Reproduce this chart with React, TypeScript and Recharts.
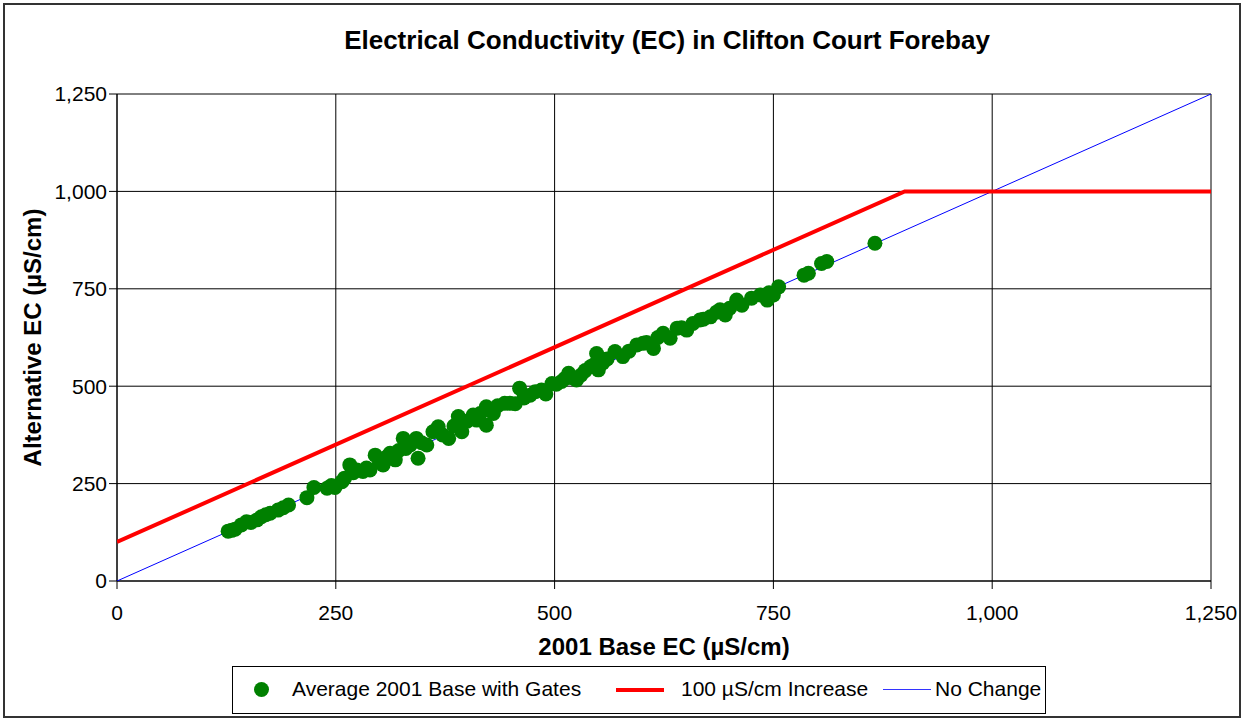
import { CartesianGrid, ComposedChart, Label, Scatter, XAxis, YAxis } from "recharts";

// average 2001 base EC vs alternative EC (µS/cm)
const baseEc = [
  127, 131, 135, 142, 148, 153, 160, 165, 170, 175, 184, 190, 196, 217, 225, 240, 245, 249, 257, 260,
  266, 270, 274, 281, 285, 289, 295, 300, 304, 308, 312, 318, 322, 327, 330, 335, 342, 344, 348, 354,
  361, 367, 372, 379, 385, 390, 394, 400, 407, 411, 415, 422, 422, 424, 430, 435, 443, 449, 455, 460,
  465, 472, 478, 485, 490, 497, 502, 508, 512, 516, 520, 525, 530, 535, 541, 545, 548, 550, 555, 560,
  569, 578, 585, 594, 601, 605, 613, 618, 624, 632, 640, 645, 651, 658, 666, 670, 678, 685, 689, 695,
  700, 708, 714, 725, 735, 743, 745, 750, 756, 785, 790, 805, 811, 866,
];
const altEc = [
  128, 130, 133, 144, 152, 150, 157, 165, 170, 174, 182, 188, 195, 214, 240, 238, 245, 240, 255, 264,
  298, 278, 285, 281, 290, 285, 323, 305, 298, 318, 328, 311, 335, 366, 340, 349, 366, 315, 355, 349,
  383, 396, 375, 366, 398, 422, 383, 410, 426, 413, 430, 447, 400, 439, 430, 450, 456, 456, 455, 495,
  470, 477, 486, 490, 480, 507, 505, 512, 520, 533, 522, 516, 528, 540, 550, 555, 584, 542, 560, 570,
  589, 576, 590, 606, 610, 612, 597, 625, 636, 623, 649, 650, 644, 661, 670, 672, 678, 690, 696, 683,
  700, 721, 708, 726, 734, 721, 740, 734, 755, 785, 790, 815, 820, 867,
];

const increaseX = [0, 900, 1250];
const increaseY = [100, 1000, 1000];
const noChangeX = [0, 1250];
const noChangeY = [0, 1250];

const axisTicks = [0, 250, 500, 750, 1000, 1250];

const points = baseEc.map((x, i) => ({ x, y: altEc[i] }));
const increase = increaseX.map((x, i) => ({ x, y: increaseY[i] }));
const noChange = noChangeX.map((x, i) => ({ x, y: noChangeY[i] }));

const font = "'Liberation Sans', Arial, sans-serif";
const fmt = (v: number) => v.toLocaleString("en-US");

const Dot = (p: any) => <circle cx={p.cx} cy={p.cy} r={7.5} fill="#008000" />;
const NoShape = () => <g />;

const YTitle = (p: any) => {
  const vb = p.viewBox;
  const cx = 32;
  const cy = vb.y + vb.height / 2;
  return (
    <text
      x={cx}
      y={cy}
      transform={`rotate(-90 ${cx} ${cy})`}
      textAnchor="middle"
      dominantBaseline="central"
      fontSize={24}
      fontWeight="bold"
      fill="#000"
    >
      Alternative EC (µS/cm)
    </text>
  );
};

const XTitle = (p: any) => {
  const vb = p.viewBox;
  return (
    <text
      x={vb.x + vb.width / 2}
      y={646}
      textAnchor="middle"
      dominantBaseline="central"
      fontSize={24}
      fontWeight="bold"
      fill="#000"
    >
      2001 Base EC (µS/cm)
    </text>
  );
};

function LegendBox() {
  const txt: React.CSSProperties = { position: "absolute", top: 10, fontSize: 21, lineHeight: "24px", whiteSpace: "nowrap" };
  return (
    <div
      style={{
        position: "absolute",
        left: 232,
        top: 666,
        width: 814,
        height: 48,
        border: "1px solid #000",
        boxSizing: "border-box",
        background: "#fff",
      }}
    >
      <div style={{ position: "absolute", left: 21, top: 15, width: 15, height: 15, borderRadius: "50%", background: "#008000" }} />
      <span style={{ ...txt, left: 59 }}>Average 2001 Base with Gates</span>
      <div style={{ position: "absolute", left: 383, top: 21, width: 48, height: 4, background: "#ff0000" }} />
      <span style={{ ...txt, left: 448 }}>100 µS/cm Increase</span>
      <div style={{ position: "absolute", left: 650, top: 22, width: 48, height: 1, background: "#3333ff" }} />
      <span style={{ ...txt, left: 702 }}>No Change</span>
    </div>
  );
}

export default function App() {
  return (
    <div style={{ position: "absolute", left: 0, top: 0, width: 1251, height: 719, background: "#fff", fontFamily: font }}>
      <div
        style={{
          position: "absolute",
          left: 3,
          top: 3,
          width: 1238,
          height: 715,
          border: "2px solid #333",
          boxSizing: "border-box",
        }}
      />
      <div
        style={{
          position: "absolute",
          left: 0,
          width: 1334,
          top: 24,
          textAlign: "center",
          fontSize: 26,
          fontWeight: "bold",
          lineHeight: "32px",
        }}
      >
        Electrical Conductivity (EC) in Clifton Court Forebay
      </div>
      <div style={{ position: "absolute", left: 0, top: 0 }}>
        <ComposedChart width={1251} height={719} margin={{ top: 94, right: 40, bottom: 78, left: 0 }}>
          <CartesianGrid stroke="#000" strokeWidth={1} horizontalValues={axisTicks} verticalValues={axisTicks} />
          <XAxis
            type="number"
            dataKey="x"
            domain={[0, 1250]}
            ticks={axisTicks}
            tickFormatter={fmt}
            height={60}
            stroke="#000"
            tickSize={8}
            tickMargin={16}
            tick={{ fill: "#000", fontSize: 21, fontFamily: font }}
            allowDataOverflow
          >
            <Label content={<XTitle />} />
          </XAxis>
          <YAxis
            type="number"
            dataKey="y"
            domain={[0, 1250]}
            ticks={axisTicks}
            tickFormatter={fmt}
            width={117}
            stroke="#000"
            tickSize={8}
            tickMargin={2}
            tick={{ fill: "#000", fontSize: 21, fontFamily: font }}
            allowDataOverflow
          >
            <Label content={<YTitle />} />
          </YAxis>
          <Scatter
            data={noChange}
            line={{ stroke: "#0000ff", strokeWidth: 1 }}
            shape={<NoShape />}
            isAnimationActive={false}
          />
          <Scatter
            data={increase}
            line={{ stroke: "#ff0000", strokeWidth: 4 }}
            shape={<NoShape />}
            isAnimationActive={false}
          />
          <Scatter data={points} shape={<Dot />} isAnimationActive={false} />
        </ComposedChart>
      </div>
      <LegendBox />
    </div>
  );
}
